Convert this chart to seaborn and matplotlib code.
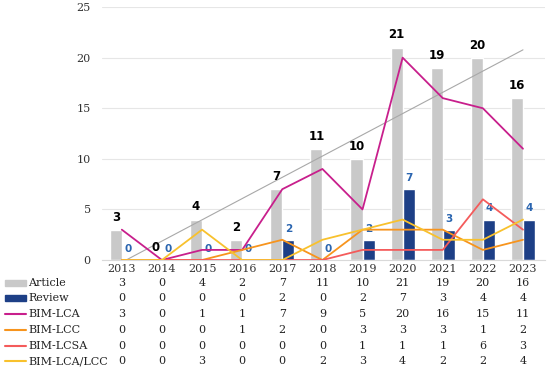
import numpy as np
import pandas as pd
import matplotlib.pyplot as plt
from matplotlib.lines import Line2D
from matplotlib.patches import Rectangle
from matplotlib.transforms import blended_transform_factory
import seaborn as sns

years = ['2013', '2014', '2015', '2016', '2017', '2018', '2019', '2020', '2021', '2022', '2023']
article = [3, 0, 4, 2, 7, 11, 10, 21, 19, 20, 16]
review = [0, 0, 0, 0, 2, 0, 2, 7, 3, 4, 4]
bim_lca = [3, 0, 1, 1, 7, 9, 5, 20, 16, 15, 11]
bim_lcc = [0, 0, 0, 1, 2, 0, 3, 3, 3, 1, 2]
bim_lcsa = [0, 0, 0, 0, 0, 0, 1, 1, 1, 6, 3]
bim_lca_lcc = [0, 0, 3, 0, 0, 2, 3, 4, 2, 2, 4]

bar_colors = {'Article': '#c9c9c9', 'Review': '#1d3f86'}
line_colors = {'BIM-LCA': '#c81f8c', 'BIM-LCC': '#f7941d',
               'BIM-LCSA': '#f45b5b', 'BIM-LCA/LCC': '#f8c12d'}
lines = {'BIM-LCA': bim_lca, 'BIM-LCC': bim_lcc,
         'BIM-LCSA': bim_lcsa, 'BIM-LCA/LCC': bim_lca_lcc}

sns.set_style('white')
plt.rcParams['font.family'] = ['DejaVu Serif']

bars = pd.DataFrame({'year': years * 2, 'count': article + review,
                     'type': ['Article'] * 11 + ['Review'] * 11})
pos = np.arange(len(years))
ldf = pd.concat([pd.DataFrame({'pos': pos, 'val': v, 'series': k}) for k, v in lines.items()])

fig = plt.figure(figsize=(5.5, 3.72), dpi=100)
ax = fig.add_axes([0.185, 0.301, 0.806, 0.68])

sns.barplot(data=bars, x='year', y='count', hue='type', palette=bar_colors,
            width=0.6, ax=ax, legend=False, saturation=1)

# linear trendline for articles
k, b = np.polyfit(pos, article, 1)
ax.plot(pos, k * pos + b, color='#a8a8a8', lw=0.8, zorder=3)

sns.lineplot(data=ldf, x='pos', y='val', hue='series', palette=line_colors,
             ax=ax, legend=False, lw=1.3, zorder=4)

ax.set_xlim(-0.5, 10.55)
ax.set_ylim(0, 25)
ax.set_yticks([0, 5, 10, 15, 20, 25])
ax.set_xticks(pos)
ax.set_xticklabels(years)
ax.set_xlabel('')
ax.set_ylabel('')
ax.grid(axis='y', color='#e6e6e6', lw=0.8)
ax.set_axisbelow(True)
for s in ['top', 'right', 'left']:
    ax.spines[s].set_visible(False)
ax.spines['bottom'].set_color('#d9d9d9')
ax.tick_params(axis='both', length=0, labelsize=8, colors='#333333', pad=3)
ax.tick_params(axis='y', pad=8)

bw = 0.3
for i in range(len(years)):
    ax.text(i - bw / 2, article[i] + 0.6, str(article[i]), ha='center', va='bottom',
            fontsize=8.5, fontweight='bold', family='DejaVu Sans', color='black')
    ax.text(i + bw / 2, review[i] + 0.6, str(review[i]), ha='center', va='bottom',
            fontsize=7.5, fontweight='bold', family='DejaVu Sans', color='#2a65b0')

# data table under the chart
tr = blended_transform_factory(ax.transData, fig.transFigure)
rows = [('Article', article), ('Review', review)] + list(lines.items())
row_y = [283, 298, 314, 330, 346, 361]
for (name, vals), yp in zip(rows, row_y):
    fy = 1 - yp / 372
    if name in bar_colors:
        fig.add_artist(Rectangle((5 / 550, fy - 3 / 372), 21 / 550, 6 / 372,
                                 transform=fig.transFigure, color=bar_colors[name]))
    else:
        fig.add_artist(Line2D([5 / 550, 26 / 550], [fy, fy], transform=fig.transFigure,
                              color=line_colors[name], lw=1.5))
    fig.text(28 / 550, fy, name, va='center', ha='left', fontsize=8, color='#222222')
    for i, v in enumerate(vals):
        ax.text(i, fy, str(v), transform=tr, ha='center', va='center',
                fontsize=8, color='#222222', clip_on=False)

fig.savefig('out.png', dpi=100)
